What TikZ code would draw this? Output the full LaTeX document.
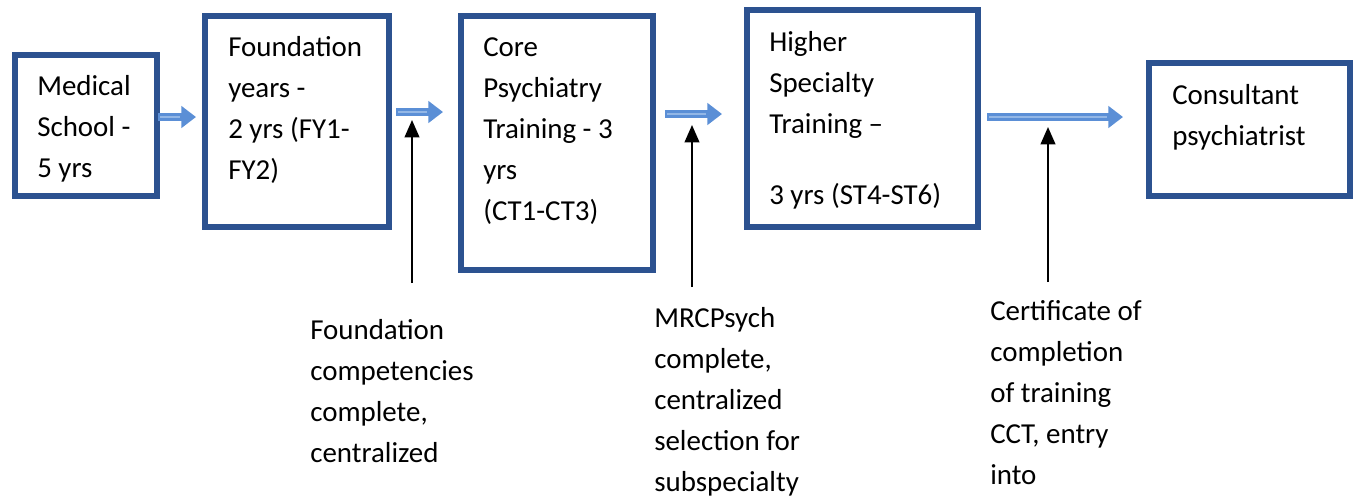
\documentclass[tikz,border=0pt]{standalone}
\usepackage{fontspec}
\setmainfont{Carlito}
\usetikzlibrary{arrows.meta,fit}
\definecolor{boxblue}{HTML}{2C5290}
\definecolor{arrblue}{HTML}{5B8FD6}
\definecolor{arrlight}{HTML}{93B7E6}
\tikzset{
  box/.style={draw=boxblue, line width=4.5pt, inner sep=0pt, fill=white},
  txt/.style={anchor=north west, inner sep=0pt, align=left, font=\fontsize{21.7pt}{30.75pt}\selectfont},
  blockarrow/.style={draw=arrblue, line width=6.5pt, -{Triangle[length=11pt,width=16pt]}},
  arrcore/.style={draw=arrlight, line width=1.4pt},
  uparrow/.style={draw=black, line width=1.5pt, -{Triangle[length=13pt,width=11pt]}}
}
\begin{document}
\begin{tikzpicture}[x=0.75pt,y=-0.75pt]
\useasboundingbox (0,0) rectangle (1357,497);
% boxes
\node[box, fit={(14.5,54.5)(157,196)}] (b1) {};
\node[box, fit={(205,16)(388.5,227)}] (b2) {};
\node[box, fit={(461,16)(653,270)}] (b3) {};
\node[box, fit={(747,10)(978,227)}] (b4) {};
\node[box, fit={(1149,63)(1350,196)}] (b5) {};
% box texts
\node[txt] (t1) at (37,71) {\rule{0pt}{18pt}Medical\\School -\\5 yrs};
\node[txt] (t2) at (228,32) {\rule{0pt}{18pt}Foundation\\years -\\2 yrs (FY1-\\FY2)};
\node[txt] (t3) at (483,32) {\rule{0pt}{18pt}Core\\Psychiatry\\Training - 3\\yrs\\(CT1-CT3)};
\node[txt] (t4) at (769,27) {\rule{0pt}{18pt}Higher\\Specialty\\Training –\\[22.5pt]3 yrs (ST4-ST6)};
\node[txt] (t5) at (1172,80) {\rule{0pt}{18pt}Consultant\\psychiatrist};
% bottom labels
\node[txt] (l1) at (310,315) {\rule{0pt}{18pt}Foundation\\competencies\\complete,\\centralized};
\node[txt] (l2) at (654,303) {\rule{0pt}{18pt}MRCPsych\\complete,\\centralized\\selection for\\subspecialty};
\node[txt] (l3) at (990,296) {\rule{0pt}{18pt}Certificate of\\completion\\of training\\CCT, entry\\into};
% block arrows between boxes
\coordinate (a1s) at ([xshift=-1.5pt]b1.east |- 0,117);
\coordinate (a1e) at (196,117);
\coordinate (a2s) at (396,112);
\coordinate (a2e) at (443,112);
\coordinate (a3s) at (665,114);
\coordinate (a3e) at (722,114);
\coordinate (a4s) at (987,117);
\coordinate (a4e) at (1123,117);
\foreach \s/\e in {a1s/a1e,a2s/a2e,a3s/a3e,a4s/a4e}{
  \draw[blockarrow] (\s) -- (\e);
  \draw[arrcore] ([xshift=1.5pt]\s) -- ([xshift=-12pt]\e);
}
% vertical arrows
\coordinate (v1s) at (412,283);
\coordinate (v1e) at (412,120);
\coordinate (v2s) at (692,287);
\coordinate (v2e) at (692,125);
\coordinate (v3s) at (1048,282);
\coordinate (v3e) at (1048,127);
\draw[uparrow] (v1s) -- (v1e);
\draw[uparrow] (v2s) -- (v2e);
\draw[uparrow] (v3s) -- (v3e);
\end{tikzpicture}
\end{document}
